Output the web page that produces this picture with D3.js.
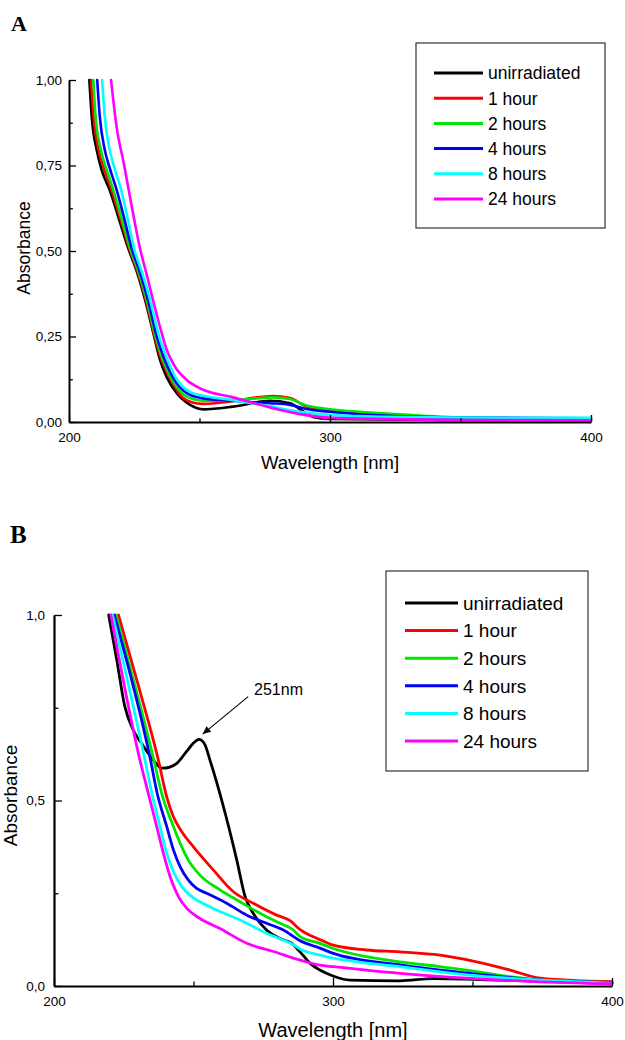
<!DOCTYPE html>
<html><head><meta charset="utf-8">
<script src="https://cdn.jsdelivr.net/npm/d3@7"></script>
<style>body{margin:0;background:#fff;} svg{display:block;}</style>
</head><body>
<svg id="c" width="625" height="1040"></svg>
<script>
// ---------- data ----------
const seriesNames = ["unirradiated","1 hour","2 hours","4 hours","8 hours","24 hours"];
const seriesColors = ["#000000","#ff0000","#00e600","#0000ff","#00ffff","#ff00ff"];
const xTicksMajor = [200,300,400];
const xTicksMinor = [250,350];
const yTicksA = [0,0.25,0.5,0.75,1];
const yMinorA = [0.125,0.375,0.625,0.875];
const yTicksB = [0,0.5,1];
const yMinorB = [0.25,0.75];
const xTitle = "Wavelength [nm]";
const yTitle = "Absorbance";

// Panel A  [wavelength nm, absorbance]
const A_unirr = [[207.8,1.0],[208.7,0.893],[210.6,0.796],[212.5,0.737],[215.7,0.676],[219.2,0.592],[222.7,0.508],[226.2,0.435],[229.4,0.35],[232.6,0.251],[234.9,0.181],[237.4,0.132],[241.3,0.084],[246.4,0.05],[251.5,0.037],[262.9,0.045],[277,0.062],[284.7,0.055],[289,0.035],[293.5,0.015],[300,0.009],[350,0.006],[400,0.005]];
const A_1h = [[208.4,1.0],[209.4,0.893],[211.3,0.796],[213.2,0.745],[216.3,0.678],[219.7,0.594],[223.1,0.508],[226.5,0.435],[229.7,0.35],[232.8,0.251],[235.5,0.181],[238.4,0.132],[241,0.097],[243.5,0.072],[247,0.058],[251.5,0.053],[262,0.06],[270,0.07],[278,0.076],[284.7,0.07],[291,0.045],[303,0.03],[322,0.02],[350,0.012],[400,0.008]];
const A_2h = [[209.3,1.0],[210.2,0.893],[212.2,0.796],[214.1,0.745],[217,0.678],[220.2,0.594],[223.4,0.508],[226.8,0.435],[230,0.35],[233.1,0.251],[236,0.181],[238.9,0.132],[241.5,0.1],[244,0.08],[247.5,0.067],[251.5,0.062],[262,0.064],[270,0.068],[278,0.072],[284.7,0.067],[291,0.048],[303,0.035],[322,0.025],[350,0.014],[400,0.01]];
const A_4h = [[210.8,1.0],[211.8,0.893],[213.7,0.796],[215.5,0.745],[218.3,0.678],[221.2,0.594],[224,0.508],[227.3,0.435],[230.5,0.35],[233.6,0.251],[236.7,0.181],[239.7,0.132],[242.5,0.102],[245.5,0.083],[251.5,0.069],[262,0.062],[277,0.055],[284.7,0.05],[291,0.038],[303,0.028],[322,0.018],[350,0.013],[400,0.011]];
const A_8h = [[212.7,1.0],[213.7,0.893],[215.6,0.796],[217.3,0.745],[220,0.678],[222.5,0.594],[224.9,0.508],[228.1,0.435],[231.3,0.35],[234.5,0.251],[237.8,0.181],[240.7,0.132],[243.5,0.103],[246.5,0.087],[251.5,0.077],[262.8,0.064],[275.7,0.048],[288.5,0.03],[301,0.02],[322,0.015],[350,0.013],[400,0.012]];
const A_24h = [[216.1,1.0],[218.3,0.86],[221.1,0.752],[224,0.632],[227.2,0.508],[229.8,0.43],[232.4,0.35],[234.8,0.28],[237.4,0.212],[240.5,0.163],[245.1,0.123],[250.3,0.098],[262.8,0.072],[275.7,0.045],[288.5,0.023],[301,0.012],[350,0.006],[400,0.005]];

// Panel B
const B_unirr = [[219.6,1.0],[222.5,0.879],[225.4,0.753],[228.4,0.69],[231.4,0.654],[235.6,0.609],[238.8,0.587],[241.5,0.59],[244,0.6],[247.6,0.633],[250,0.655],[252,0.665],[254,0.652],[255.9,0.609],[260.1,0.501],[265.5,0.34],[268.5,0.241],[271.4,0.196],[276.2,0.151],[281,0.128],[285.2,0.115],[288.2,0.092],[291.8,0.061],[295.3,0.043],[300,0.027],[306,0.016],[324,0.014],[336,0.02],[360,0.016],[400,0.007]];
const B_1h = [[223.1,1.0],[230.8,0.795],[237.4,0.609],[240.4,0.51],[242.8,0.456],[245.8,0.416],[249.9,0.376],[257.1,0.313],[264.3,0.254],[271.4,0.223],[279.8,0.191],[284.6,0.176],[288.2,0.152],[295.3,0.125],[300.1,0.11],[312,0.097],[324,0.092],[338.4,0.083],[351.5,0.065],[363.4,0.043],[374.2,0.021],[389.7,0.014],[400,0.012]];
const B_2h = [[222.2,1.0],[235.8,0.609],[238.6,0.519],[242.8,0.43],[245.2,0.385],[248.1,0.34],[252.3,0.299],[259.5,0.259],[266.7,0.227],[273.8,0.196],[281,0.169],[285.8,0.151],[288.2,0.133],[295.3,0.115],[300.1,0.101],[312,0.079],[324,0.065],[338.4,0.052],[351.5,0.039],[363.4,0.025],[374.2,0.016],[400,0.01]];
const B_4h = [[221.6,1.0],[234.6,0.609],[237,0.519],[240.4,0.43],[242.8,0.367],[245.2,0.322],[248.1,0.286],[251.1,0.263],[254.7,0.25],[261.9,0.223],[269.1,0.191],[276.2,0.169],[282.2,0.151],[288.2,0.122],[295.3,0.102],[300.1,0.088],[324,0.057],[347.9,0.035],[371.8,0.017],[400,0.009]];
const B_8h = [[221,1.0],[232.6,0.609],[235.1,0.519],[238,0.43],[240.4,0.358],[242.8,0.308],[245.8,0.268],[248.7,0.245],[252.3,0.227],[258.3,0.205],[266.7,0.178],[276.2,0.142],[285.8,0.111],[288.2,0.1],[295.3,0.083],[300.1,0.075],[324,0.052],[347.9,0.03],[371.8,0.017],[400,0.008]];
const B_24h = [[220.4,1.0],[230.8,0.609],[233.8,0.519],[236.8,0.43],[239.2,0.358],[241.6,0.295],[244.6,0.241],[247.6,0.209],[252.3,0.182],[259.5,0.155],[269.1,0.115],[278.6,0.093],[288.2,0.07],[295.3,0.056],[300.1,0.052],[324,0.034],[347.9,0.021],[371.8,0.012],[400,0.006]];

// annotation (data units)
const annText = "251nm";
const annTip = [253.3, 0.679];
const annTail = [269.6, 0.78];
const annLabel = [271.7, 0.784];

// ---------- drawing ----------
const svg = d3.select("#c");
const FONT = "'Liberation Sans', Arial, Helvetica, sans-serif";
const loc = d3.formatLocale({decimal: ",", thousands: ".", grouping: [3], currency: ["", ""]});

svg.append("defs").append("marker")
  .attr("id","arr").attr("viewBox","0 0 10 10").attr("refX",10).attr("refY",5)
  .attr("markerWidth",10).attr("markerHeight",8).attr("markerUnits","userSpaceOnUse")
  .attr("orient","auto")
  .append("path").attr("d","M0,0.5 L10,5 L0,9.5 Z").attr("fill","#000");

function drawPanel(p) {
  const x = d3.scaleLinear().domain([200,400]).range([p.left,p.right]);
  const y = d3.scaleLinear().domain([0,1]).range([p.bottom,p.top]);
  const g = svg.append("g");

  const line = d3.line().x(d=>x(d[0])).y(d=>y(d[1])).curve(d3.curveMonotoneX);
  p.series.forEach((s,i)=>{
    g.append("path").attr("d",line(s)).attr("fill","none")
      .attr("stroke",seriesColors[i]).attr("stroke-width",p.lw)
      .attr("stroke-linejoin","round").attr("stroke-linecap","round");
  });

  const fmt = loc.format(p.yfmt);
  const yAx = g.append("g").attr("transform",`translate(${p.left},0)`)
    .call(d3.axisLeft(y).tickValues(p.yTicks).tickFormat(fmt).tickSize(-p.tick).tickSizeOuter(0).tickPadding(p.ypad));
  const yMin = g.append("g").attr("transform",`translate(${p.left},0)`)
    .call(d3.axisLeft(y).tickValues(p.yMinor).tickFormat("").tickSize(-p.tick*0.55).tickSizeOuter(0));
  const xAx = g.append("g").attr("transform",`translate(0,${p.bottom})`)
    .call(d3.axisBottom(x).tickValues(xTicksMajor).tickFormat(d3.format("d")).tickSize(-p.tick).tickSizeOuter(0).tickPadding(p.xpad));
  const xMin = g.append("g").attr("transform",`translate(0,${p.bottom})`)
    .call(d3.axisBottom(x).tickValues(xTicksMinor).tickFormat("").tickSize(-p.tick*0.55).tickSizeOuter(0));
  [yAx,yMin,xAx,xMin].forEach(a=>{
    a.select(".domain").attr("stroke","#000").attr("stroke-width",p.axw);
    a.selectAll(".tick line").attr("stroke","#000").attr("stroke-width",1.3);
    a.selectAll("text").attr("font-family",FONT).attr("font-size",p.tickFs).attr("fill","#000");
  });
  yMin.select(".domain").remove();
  xMin.select(".domain").remove();

  // titles
  g.append("text").attr("x",(p.left+p.right)/2).attr("y",p.xTitleY)
    .attr("text-anchor","middle").attr("font-family",FONT).attr("font-size",p.titleFs).text(xTitle);
  g.append("text").attr("transform",`translate(${p.yTitleX},${p.yTitleCY}) rotate(-90)`)
    .attr("text-anchor","middle").attr("font-family",FONT).attr("font-size",p.yTitleFs).text(yTitle);
  g.append("text").attr("x",p.labX).attr("y",p.labY)
    .attr("font-family","'Liberation Serif','Times New Roman',serif").attr("font-weight","bold")
    .attr("font-size",p.labFs).text(p.label);

  // legend
  const L = p.legend;
  g.append("rect").attr("x",L.x).attr("y",L.y).attr("width",L.w).attr("height",L.h)
    .attr("fill","#fff").attr("stroke","#333").attr("stroke-width",1.2);
  seriesNames.forEach((n,i)=>{
    const yy = L.row0 + i*L.dy;
    g.append("line").attr("x1",L.lx1).attr("x2",L.lx2).attr("y1",yy).attr("y2",yy)
      .attr("stroke",seriesColors[i]).attr("stroke-width",3);
    g.append("text").attr("x",L.tx).attr("y",yy).attr("dy","0.36em")
      .attr("font-family",FONT).attr("font-size",L.fs).text(n);
  });

  if (p.annotate) {
    g.append("line").attr("x1",x(annTail[0])).attr("y1",y(annTail[1]))
      .attr("x2",x(annTip[0])).attr("y2",y(annTip[1]))
      .attr("stroke","#000").attr("stroke-width",1.1).attr("marker-end","url(#arr)");
    g.append("text").attr("x",x(annLabel[0])).attr("y",y(annLabel[1]))
      .attr("font-family",FONT).attr("font-size",16).text(annText);
  }
}

drawPanel({
  label:"A", labX:11, labY:31, labFs:22,
  left:69, right:591, top:80, bottom:422,
  series:[A_unirr,A_1h,A_2h,A_4h,A_8h,A_24h], lw:2.6,
  yTicks:yTicksA, yMinor:yMinorA, yfmt:".2f", tick:7, ypad:7, xpad:10, axw:2, tickFs:13.5,
  xTitleY:469, titleFs:18.5, yTitleX:30, yTitleCY:248, yTitleFs:17.5,
  legend:{x:416,y:43,w:189,h:185,row0:73,dy:25.2,lx1:434,lx2:483,tx:488,fs:17.5},
  annotate:false
});
drawPanel({
  label:"B", labX:10, labY:543, labFs:25,
  left:54, right:612, top:615, bottom:986,
  series:[B_unirr,B_1h,B_2h,B_4h,B_8h,B_24h], lw:2.8,
  yTicks:yTicksB, yMinor:yMinorB, yfmt:".1f", tick:8, ypad:9, xpad:10, axw:2.2, tickFs:13.5,
  xTitleY:1037, titleFs:20, yTitleX:16.5, yTitleCY:795.5, yTitleFs:19,
  legend:{x:386,y:571,w:202,h:200,row0:603,dy:27.6,lx1:405,lx2:458,tx:463,fs:19},
  annotate:true
});
</script>
</body></html>
